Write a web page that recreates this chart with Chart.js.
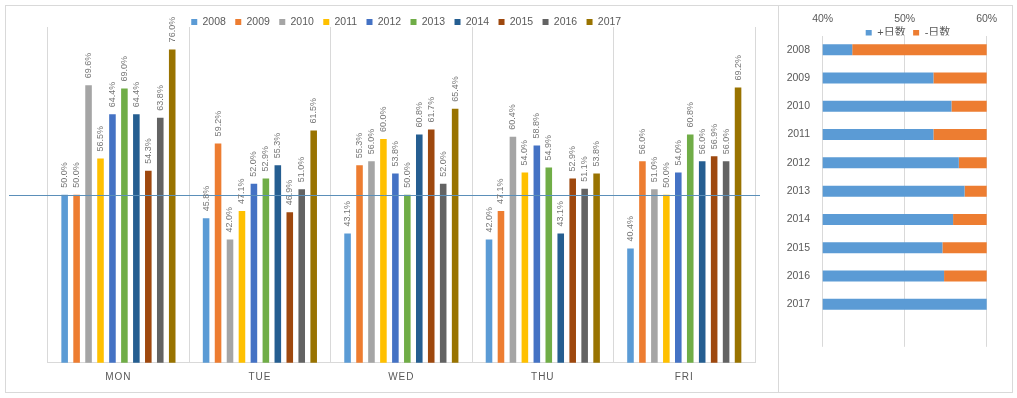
<!DOCTYPE html>
<html>
<head>
<meta charset="utf-8">
<script src="https://cdn.jsdelivr.net/npm/chart.js@4/dist/chart.umd.min.js"></script>
<style>
  html, body { margin: 0; padding: 0; background: #ffffff; }
  body { width: 1017px; height: 398px; position: relative; overflow: hidden; }
  #c1 { position: absolute; left: 5px; top: 5px; }
  #c2 { position: absolute; left: 779px; top: 5px; }
  .frame { position: absolute; left: 5px; top: 5px; width: 1008px; height: 388px; box-sizing: border-box; border: 1px solid #d9d9d9; pointer-events: none; }
  .divider { position: absolute; left: 778px; top: 5px; width: 1px; height: 388px; background: #d9d9d9; pointer-events: none; }
</style>
</head>
<body>
<canvas id="c1" width="774" height="387"></canvas>
<canvas id="c2" width="233" height="387"></canvas>
<div class="frame"></div>
<div class="divider"></div>
<script>
// ---------- data: weekday chart ----------
const days = ['MON', 'TUE', 'WED', 'THU', 'FRI'];
const years = ['2008', '2009', '2010', '2011', '2012', '2013', '2014', '2015', '2016', '2017'];
const v2008 = [50.0, 45.8, 43.1, 42.0, 40.4];
const v2009 = [50.0, 59.2, 55.3, 47.1, 56.0];
const v2010 = [69.6, 42.0, 56.0, 60.4, 51.0];
const v2011 = [56.5, 47.1, 60.0, 54.0, 50.0];
const v2012 = [64.4, 52.0, 53.8, 58.8, 54.0];
const v2013 = [69.0, 52.9, 50.0, 54.9, 60.8];
const v2014 = [64.4, 55.3, 60.8, 43.1, 56.0];
const v2015 = [54.3, 46.9, 61.7, 52.9, 56.9];
const v2016 = [63.8, 51.0, 52.0, 51.1, 56.0];
const v2017 = [76.0, 61.5, 65.4, 53.8, 69.2];
const refLineValue = 50;
const weekdayAxisMin = 20;
const weekdayAxisMax = 80;

// ---------- data: yearly summary chart ----------
const summaryYears = ['2008', '2009', '2010', '2011', '2012', '2013', '2014', '2015', '2016', '2017', ''];
const plusDays  = [43.6, 53.5, 55.7, 53.5, 56.6, 57.3, 55.9, 54.6, 54.8, 65.2];
const minusDays = [56.4, 46.5, 44.3, 46.5, 43.4, 42.7, 44.1, 45.4, 45.2, 34.8];
const summaryMin = 40;
const summaryMax = 60;
const summaryStep = 10;

// ---------- styles ----------
const FF = "'Liberation Sans', 'Noto Sans CJK SC', Arial, sans-serif";
const yearColors = ['#5B9BD5', '#ED7D31', '#A5A5A5', '#FFC000', '#4472C4', '#70AD47', '#255E91', '#9E480E', '#636363', '#997300'];
const TEXT = '#595959';
const GRID = '#d9d9d9';
Chart.defaults.font.family = FF;

const seriesByYear = [v2008, v2009, v2010, v2011, v2012, v2013, v2014, v2015, v2016, v2017];

// let axis labels draw outside their own layout boxes
const noLabelClipPlugin = {
  id: 'noLabelClip',
  beforeDraw(chart) {
    Object.values(chart.scales).forEach((s) => { s._computeLabelArea = () => undefined; });
  }
};

const letterSpacingPlugin = {
  id: 'xLetterSpacing',
  beforeDraw(chart) {
    const s = chart.scales.x;
    if (s && !s._lsWrapped) {
      const orig = s.drawLabels.bind(s);
      s.drawLabels = function (area) {
        const c = chart.ctx;
        c.save();
        c.letterSpacing = '1px';
        orig(area);
        c.restore();
      };
      s._lsWrapped = true;
    }
  }
};

const refLinePlugin = {
  id: 'refLine',
  afterDatasetsDraw(chart) {
    const ctx = chart.ctx;
    const y = Math.round(chart.scales.y.getPixelForValue(refLineValue)) + 0.5;
    ctx.save();
    ctx.strokeStyle = '#5B8FB9';
    ctx.lineWidth = 1;
    ctx.beginPath();
    ctx.moveTo(4, y);
    ctx.lineTo(chart.chartArea.right + 5, y);
    ctx.stroke();
    ctx.restore();
  }
};

const barLabelPlugin = {
  id: 'barLabels',
  afterDatasetsDraw(chart) {
    const ctx = chart.ctx;
    ctx.save();
    ctx.font = '9px ' + FF;
    ctx.fillStyle = '#767676';
    ctx.textAlign = 'left';
    ctx.textBaseline = 'middle';
    chart.data.datasets.forEach((ds, di) => {
      const meta = chart.getDatasetMeta(di);
      meta.data.forEach((el, i) => {
        ctx.save();
        ctx.translate(el.x, el.y - 7);
        ctx.rotate(-Math.PI / 2);
        ctx.fillText(ds.data[i].toFixed(1) + '%', 0, 0);
        ctx.restore();
      });
    });
    ctx.restore();
  }
};

new Chart(document.getElementById('c1'), {
  type: 'bar',
  data: {
    labels: days,
    datasets: years.map((y, i) => ({
      label: y,
      data: seriesByYear[i],
      backgroundColor: yearColors[i],
      borderWidth: 0
    }))
  },
  options: {
    responsive: false,
    animation: false,
    layout: { padding: { left: 42.7, right: 14.3, top: 2.35, bottom: 0 } },
    datasets: { bar: { barPercentage: 0.55, categoryPercentage: 0.845 } },
    plugins: {
      legend: {
        position: 'top',
        maxHeight: 19.65,
        labels: { boxWidth: 6, boxHeight: 6, padding: 9.4, color: TEXT, font: { family: FF, size: 10.5 } }
      },
      tooltip: { enabled: false }
    },
    scales: {
      x: {
        grid: { color: GRID, drawTicks: false, offset: true },
        border: { color: GRID },
        ticks: { color: TEXT, font: { family: FF, size: 10 }, padding: 9 },
        afterFit: (s) => { s.height = 29.3; }
      },
      y: {
        position: 'right',
        min: weekdayAxisMin,
        max: weekdayAxisMax,
        grid: { display: false, drawTicks: false },
        border: { display: false },
        ticks: { display: false },
        afterFit: (s) => { s.width = 9.7; }
      }
    }
  },
  plugins: [noLabelClipPlugin, letterSpacingPlugin, refLinePlugin, barLabelPlugin]
});

new Chart(document.getElementById('c2'), {
  type: 'bar',
  data: {
    labels: summaryYears,
    datasets: [
      { label: '+日数', data: plusDays, backgroundColor: '#5B9BD5', borderWidth: 0 },
      { label: '-日数', data: minusDays, backgroundColor: '#ED7D31', borderWidth: 0 }
    ]
  },
  options: {
    indexAxis: 'y',
    responsive: false,
    animation: false,
    layout: { padding: { left: 25, right: 0, top: 0, bottom: 45.2 } },
    datasets: { bar: { barPercentage: 0.39, categoryPercentage: 1 } },
    plugins: {
      legend: {
        position: 'top',
        maxHeight: 15.5,
        labels: { boxWidth: 6, boxHeight: 6, padding: 7.5, color: TEXT, font: { family: FF, size: 11 } }
      },
      tooltip: { enabled: false }
    },
    scales: {
      x: {
        position: 'top',
        weight: 2000,
        stacked: true,
        min: summaryMin,
        max: summaryMax,
        ticks: { stepSize: summaryStep, callback: (v) => v + '%', color: TEXT, font: { family: FF, size: 10.5 }, padding: -5.3 },
        grid: { color: GRID, drawTicks: false },
        border: { display: false },
        afterFit: (s) => { s.height = 15; }
      },
      y: {
        stacked: true,
        grid: { display: false, drawTicks: false },
        border: { display: false },
        ticks: { color: TEXT, font: { family: FF, size: 10.5 }, padding: 12.7 },
        afterFit: (s) => { s.width = 18.7; }
      },
      yr: {
        type: 'category',
        position: 'right',
        grid: { display: false, drawTicks: false },
        border: { display: false },
        ticks: { display: false },
        afterFit: (s) => { s.width = 25.3; }
      }
    }
  },
  plugins: [noLabelClipPlugin]
});
</script>
</body>
</html>
